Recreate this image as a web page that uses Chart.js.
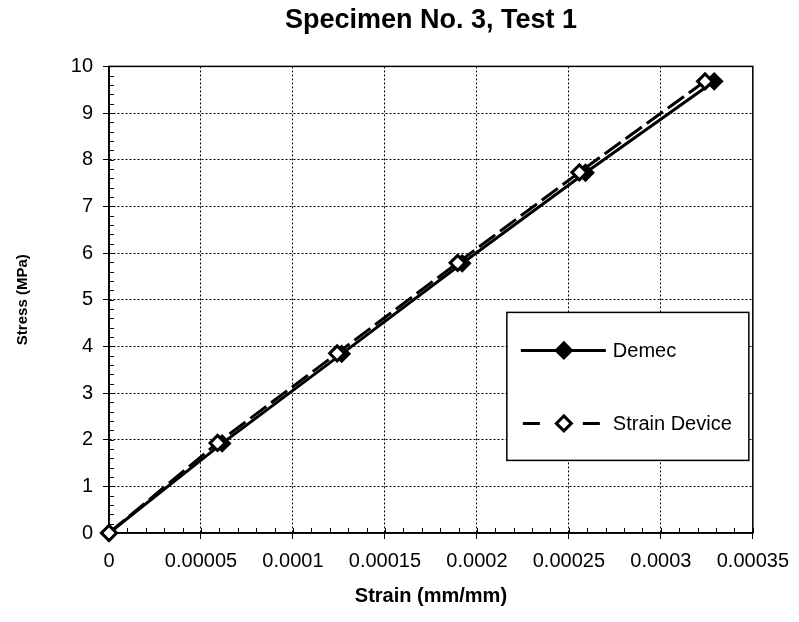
<!DOCTYPE html>
<html>
<head>
<meta charset="utf-8">
<script src="https://cdn.jsdelivr.net/npm/chart.js@4/dist/chart.umd.min.js"></script>
<style>
html,body{margin:0;padding:0;background:#fff;}
#wrap{width:799px;height:622px;position:relative;}
</style>
</head>
<body>
<div id="wrap"><canvas id="c" width="799" height="622"></canvas></div>
<script>
const chartTitle = 'Specimen No. 3, Test 1';
const xAxisTitle = 'Strain (mm/mm)';
const yAxisTitle = 'Stress (MPa)';
const seriesNames = ['Demec', 'Strain Device'];
const demecStrain = [0, 0.0000615, 0.0001265, 0.000192, 0.000259, 0.000329];
const demecStress = [0, 1.92, 3.84, 5.78, 7.72, 9.68];
const deviceStrain = [0, 0.000059, 0.000124, 0.0001895, 0.0002557, 0.000324];
const deviceStress = [0, 1.93, 3.85, 5.79, 7.73, 9.68];
const xTickLabels = ['0', '0.00005', '0.0001', '0.00015', '0.0002', '0.00025', '0.0003', '0.00035'];
const yTickLabels = ['0','1','2','3','4','5','6','7','8','9','10'];

const FONT = "'Liberation Sans', Arial, sans-serif";

const toPts = (xs, ys) => xs.map((x, i) => ({x: x, y: ys[i]}));

function diamond(ctx, cx, cy, r, fill) {
  ctx.beginPath();
  ctx.moveTo(cx, cy - r);
  ctx.lineTo(cx + r, cy);
  ctx.lineTo(cx, cy + r);
  ctx.lineTo(cx - r, cy);
  ctx.closePath();
  ctx.fillStyle = fill;
  ctx.fill();
  ctx.stroke();
}

const frameAndLegend = {
  id: 'frameAndLegend',
  beforeDatasetsDraw(chart) {
    const ctx = chart.ctx, a = chart.chartArea;
    const xs = chart.scales.x, ys = chart.scales.y;
    ctx.save();
    ctx.strokeStyle = '#000';
    ctx.lineWidth = 1.5;
    ctx.setLineDash([]);
    ctx.strokeRect(a.left, a.top, a.right - a.left, a.bottom - a.top);
    ctx.lineWidth = 1;
    ctx.beginPath();
    for (let i = 0; i <= 35; i++) {
      const px = Math.round(xs.getPixelForValue(i * 0.00001)) + 0.5;
      ctx.moveTo(px, a.bottom);
      ctx.lineTo(px, a.bottom - 5);
    }
    for (let i = 0; i <= 50; i++) {
      const py = Math.round(ys.getPixelForValue(i * 0.2)) + 0.5;
      ctx.moveTo(a.left, py);
      ctx.lineTo(a.left + 5, py);
    }
    ctx.stroke();
    ctx.restore();
  },
  afterDraw(chart) {
    const ctx = chart.ctx, a = chart.chartArea;
    ctx.save();
    const bx = a.right - 246, by = a.top + 246, bw = 242, bh = 148;
    ctx.fillStyle = '#fff';
    ctx.fillRect(bx, by, bw, bh);
    ctx.strokeStyle = '#000';
    ctx.lineWidth = 1.5;
    ctx.setLineDash([]);
    ctx.strokeRect(bx, by, bw, bh);
    const ds = chart.data.datasets;
    const rows = [{ds: ds[0], y: by + 38}, {ds: ds[1], y: by + 111}];
    rows.forEach(r => {
      const d = r.ds;
      ctx.strokeStyle = '#000';
      ctx.lineWidth = 3;
      if (d.borderDash) {
        ctx.beginPath();
        ctx.moveTo(bx + 16, r.y); ctx.lineTo(bx + 33, r.y);
        ctx.moveTo(bx + 76, r.y); ctx.lineTo(bx + 93, r.y);
        ctx.stroke();
      } else {
        ctx.beginPath();
        ctx.moveTo(bx + 14, r.y);
        ctx.lineTo(bx + 99, r.y);
        ctx.stroke();
      }
      diamond(ctx, bx + 57, r.y, 7.5, d.pointBackgroundColor);
      ctx.fillStyle = '#000';
      ctx.font = '20px ' + FONT;
      ctx.textBaseline = 'middle';
      ctx.textAlign = 'left';
      ctx.fillText(d.label, bx + 106, r.y + 1);
    });
    ctx.restore();
  }
};

new Chart(document.getElementById('c'), {
  type: 'line',
  data: {
    datasets: [
      {
        label: seriesNames[0],
        data: toPts(demecStrain, demecStress),
        borderColor: '#000',
        borderWidth: 3,
        pointStyle: 'rectRot',
        pointRadius: 8,
        pointBackgroundColor: '#000',
        pointBorderColor: '#000',
        pointBorderWidth: 2,
        clip: false,
        order: 2
      },
      {
        label: seriesNames[1],
        data: toPts(deviceStrain, deviceStress),
        borderColor: '#000',
        borderWidth: 3,
        borderDash: [20, 6],
        pointStyle: 'rectRot',
        pointRadius: 7.5,
        pointBackgroundColor: '#fff',
        pointBorderColor: '#000',
        pointBorderWidth: 3,
        clip: false,
        order: 1
      }
    ]
  },
  options: {
    responsive: false,
    animation: false,
    devicePixelRatio: 1,
    layout: {padding: {top: 0, right: 44, bottom: 14, left: 14}},
    plugins: {
      legend: {display: false},
      tooltip: {enabled: false},
      title: {
        display: true,
        fullSize: false,
        text: chartTitle,
        color: '#000',
        font: {family: FONT, size: 27, weight: 'bold'},
        padding: {top: 4, bottom: 30}
      }
    },
    elements: {line: {tension: 0, fill: false}},
    scales: {
      x: {
        type: 'linear',
        min: 0,
        max: 0.00035,
        afterFit(s) { s.height = 75; },
        ticks: {
          stepSize: 0.00005,
          color: '#000',
          font: {family: FONT, size: 20},
          padding: 10,
          maxRotation: 0,
          autoSkip: false,
          callback: (v, i) => xTickLabels[i]
        },
        grid: {
          color: '#000',
          lineWidth: 1,
          tickLength: 6,
          tickColor: '#000',
          tickBorderDash: [],
          tickWidth: 1
        },
        border: {display: true, color: '#000', width: 1.5, dash: [2, 2]},
        title: {
          display: true,
          text: xAxisTitle,
          color: '#000',
          font: {family: FONT, size: 20, weight: 'bold'},
          padding: {top: 0, bottom: 0}
        }
      },
      y: {
        type: 'linear',
        min: 0,
        max: 10,
        afterFit(s) { s.width = 95; },
        ticks: {
          stepSize: 1,
          color: '#000',
          font: {family: FONT, size: 20},
          padding: 10,
          callback: (v, i) => yTickLabels[i]
        },
        grid: {
          color: '#000',
          lineWidth: 1,
          tickLength: 6,
          tickColor: '#000',
          tickBorderDash: [],
          tickWidth: 1
        },
        border: {display: true, color: '#000', width: 1.5, dash: [2, 2]},
        title: {
          display: true,
          text: yAxisTitle,
          color: '#000',
          font: {family: FONT, size: 15, weight: 'bold'},
          padding: {top: 0, bottom: 0}
        }
      }
    }
  },
  plugins: [frameAndLegend]
});
</script>
</body>
</html>
